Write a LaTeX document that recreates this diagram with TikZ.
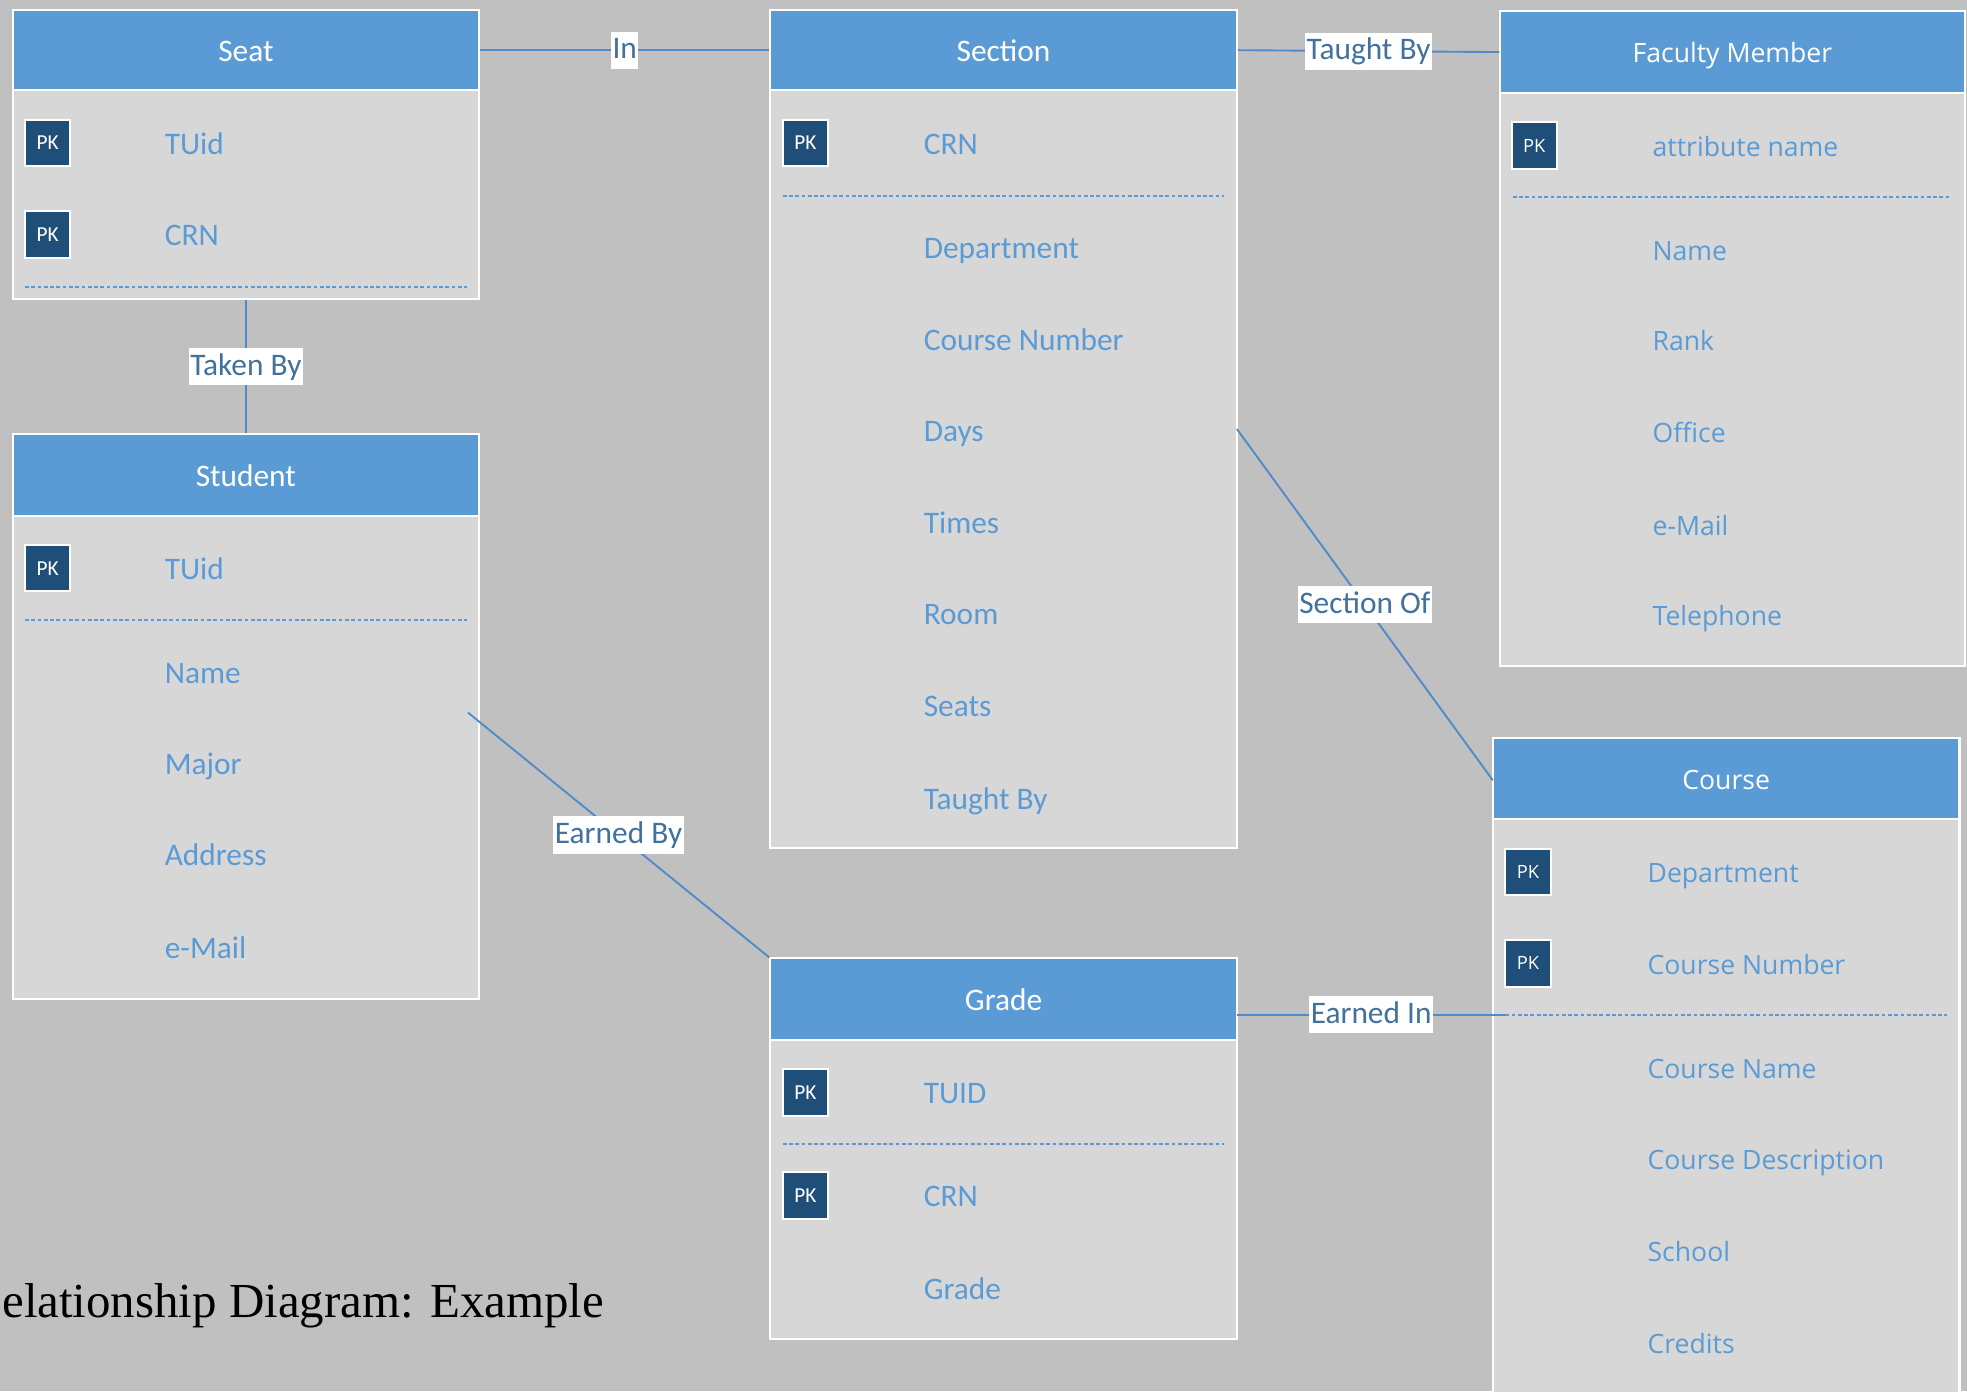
\documentclass[tikz,border=0pt]{standalone}
\usepackage{fontspec}
\usetikzlibrary{fit}
\newfontfamily\calfont{Carlito}
\newfontfamily\segfont{Open Sans}
\newfontfamily\tmsfont{Liberation Serif}
\definecolor{bg}{RGB}{192,192,192}
\definecolor{hdr}{RGB}{91,155,213}
\definecolor{bodyc}{RGB}{215,215,215}
\definecolor{pkc}{RGB}{31,78,121}
\definecolor{attrc}{RGB}{91,155,213}
\definecolor{lblc}{RGB}{65,113,156}
\definecolor{linec}{RGB}{79,139,201}
\begin{document}
\begin{tikzpicture}[x=0.5pt,y=-0.5pt,
 entity/.style={draw=white, line width=0.8pt, fill=bodyc, inner sep=0pt},
 header/.style={draw=white, line width=0.8pt, fill=hdr, inner sep=0pt},
 htitle/.style={anchor=base, yshift=-4.5pt, text=white, font=\calfont\fontsize{12.5}{15}\selectfont, inner sep=0pt},
 htitleb/.style={anchor=base, yshift=-4.3pt, text=white, font=\segfont\fontsize{10.6}{13}\selectfont, inner sep=0pt},
 attr/.style={anchor=base west, yshift=-4.5pt, text=attrc, font=\calfont\fontsize{12.5}{15}\selectfont, inner sep=0pt},
 attrb/.style={anchor=base west, yshift=-4.3pt, text=attrc, font=\segfont\fontsize{10.6}{13}\selectfont, inner sep=0pt},
 pk/.style={draw=white, line width=0.8pt, fill=pkc, text=white, minimum width=18pt, minimum height=18.5pt, inner sep=0pt, font=\calfont\fontsize{8.5}{10}\selectfont},
 pkb/.style={pk, font=\segfont\fontsize{7.3}{9}\selectfont},
 sep/.style={draw=attrc, line width=0.75pt, dash pattern=on 1.5pt off 1pt},
 conn/.style={draw=linec, line width=0.75pt},
 lbl/.style={fill=white, text=lblc, font=\calfont\fontsize{12.5}{15}\selectfont, inner xsep=0.6pt, inner ysep=1.5pt, text height=9.4pt, text depth=2.4pt},
]
\useasboundingbox (0,0) rectangle (1568,1109);
\clip (0,0) rectangle (1568,1109);
\fill[bg] (0,0) rectangle (1568,1109);

% ---------- Seat ----------
\node[entity, fit={(10,8)(382,238)}] (seat) {};
\node[header, fit={(10,8)(382,72)}] (seath) {};
\node[htitle] (seatt) at (seath.center) {Seat};
\node[pk] (seatpk1) at (38,114) {PK};
\node[attr] (seata1) at (131,114) {TUid};
\node[pk] (seatpk2) at (38,187) {PK};
\node[attr] (seata2) at (131,187) {CRN};
\draw[sep] (20,229) -- (372,229);

% ---------- Section ----------
\node[entity, fit={(614,8)(986,676)}] (sect) {};
\node[header, fit={(614,8)(986,72)}] (secth) {};
\node[htitle] (sectt) at (secth.center) {Section};
\node[pk] (sectpk1) at (642,114) {PK};
\node[attr] (secta0) at (736,114) {CRN};
\draw[sep] (624,156) -- (976,156);
\foreach \t/\yy [count=\i] in {Department/197,Course Number/270,Days/343,Times/416,Room/489,Seats/562,Taught By/636}
  \node[attr] (secta\i) at (736,\yy) {\t};

% ---------- Faculty Member ----------
\node[entity, fit={(1196,9)(1566,531)}] (fac) {};
\node[header, fit={(1196,9)(1566,74)}] (fach) {};
\node[htitleb] (fact) at (fach.center) {Faculty Member};
\node[pkb] (facpk1) at (1223,116) {PK};
\node[attrb] (faca0) at (1317,116) {attribute name};
\draw[sep] (1206,157) -- (1556,157);
\foreach \t/\yy [count=\i] in {Name/199,Rank/271,Office/344,e-Mail/418,Telephone/490}
  \node[attrb] (faca\i) at (1317,\yy) {\t};

% ---------- Student ----------
\node[entity, fit={(10,346)(382,796)}] (stud) {};
\node[header, fit={(10,346)(382,411)}] (studh) {};
\node[htitle] (studt) at (studh.center) {Student};
\node[pk] (studpk1) at (38,453) {PK};
\node[attr] (studa0) at (131,453) {TUid};
\draw[sep] (20,494) -- (372,494);
\foreach \t/\yy [count=\i] in {Name/536,Major/608,Address/681,e-Mail/755}
  \node[attr] (studa\i) at (131,\yy) {\t};

% ---------- Course ----------
\node[entity, fit={(1190,588)(1562,1130)}] (crs) {};
\node[header, fit={(1190,588)(1562,653)}] (crsh) {};
\node[htitleb] (crst) at (crsh.center) {Course};
\node[pkb] (crspk1) at (1218,695) {PK};
\node[attrb] (crsa01) at (1313,695) {Department};
\node[pkb] (crspk2) at (1218,768) {PK};
\node[attrb] (crsa02) at (1313,768) {Course Number};
\draw[sep] (1200,809) -- (1552,809);
\foreach \t/\yy [count=\i] in {Course Name/851,Course Description/924,School/997,Credits/1070}
  \node[attrb] (crsa\i) at (1313,\yy) {\t};

% ---------- Grade ----------
\node[entity, fit={(614,764)(986,1067)}] (grd) {};
\node[header, fit={(614,764)(986,829)}] (grdh) {};
\node[htitle] (grdt) at (grdh.center) {Grade};
\node[pk] (grdpk1) at (642,871) {PK};
\node[attr] (grda1) at (736,871) {TUID};
\draw[sep] (624,912) -- (976,912);
\node[pk] (grdpk2) at (642,953) {PK};
\node[attr] (grda2) at (736,953) {CRN};
\node[attr] (grda3) at (736,1027) {Grade};

% ---------- connectors ----------
\coordinate (ebA) at (373,568);
\coordinate (soA) at (986,342);
\coordinate (soB) at (1190,622);
\coordinate (eiA) at (986,809);
\coordinate (eiB) at (1200,809);

\draw[conn] (seath.east) -- (secth.west) node[lbl, midway] (lin) {In};
\draw[conn] (secth.east) -- (fach.west) node[lbl, midway] (ltaught) {Taught By};
\draw[conn] (seat.south) -- (stud.north) node[lbl, midway] (ltaken) {Taken By};
\draw[conn] (ebA) -- (grd.north west) node[lbl, midway] (learnedby) {Earned By};
\draw[conn] (soA) -- (soB) node[lbl, midway] (lsecof) {Section Of};
\draw[conn] (eiA) -- (eiB) node[lbl, midway] (learnedin) {Earned In};

% ---------- title ----------
\node[anchor=base east, inner sep=0pt, font=\tmsfont\fontsize{19.5}{23}\selectfont] (title) at (482,1050) {elationship Diagram: Example};
\end{tikzpicture}
\end{document}
